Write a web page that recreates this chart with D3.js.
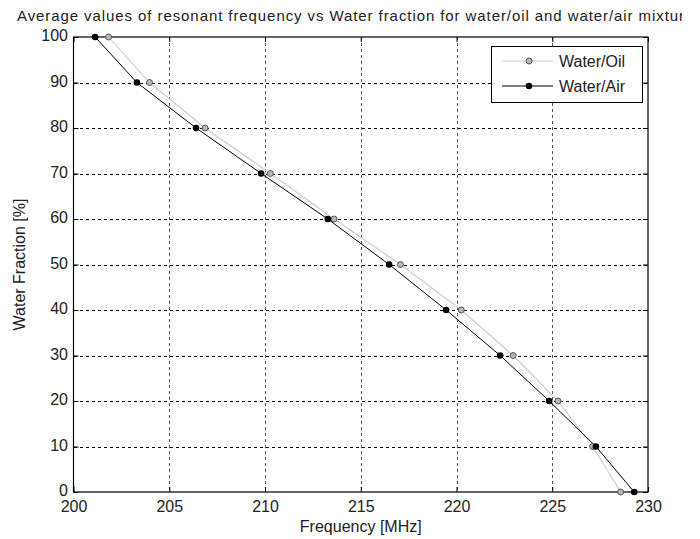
<!DOCTYPE html>
<html>
<head>
<meta charset="utf-8">
<script src="https://cdn.jsdelivr.net/npm/d3@7"></script>
<style>
  html, body { margin: 0; padding: 0; background: #fff; }
  svg { display: block; font-family: "Liberation Sans", Arial, sans-serif; }
</style>
</head>
<body>
<svg id="chart" width="700" height="539"></svg>
<script>
// ---- data ----
const waterFraction = [100, 90, 80, 70, 60, 50, 40, 30, 20, 10, 0];
const freqOil = [201.83, 203.97, 206.87, 210.28, 213.61, 217.07, 220.25, 222.96, 225.30, 227.11, 228.57];
const freqAir = [201.13, 203.31, 206.40, 209.80, 213.28, 216.48, 219.46, 222.28, 224.84, 227.28, 229.28];
const xTicks = [200, 205, 210, 215, 220, 225, 230];
const yTicks = [0, 10, 20, 30, 40, 50, 60, 70, 80, 90, 100];
const seriesNames = ["Water/Oil", "Water/Air"];
const titleText = "Average values of resonant frequency vs Water fraction for water/oil and water/air mixtures";
const xLabel = "Frequency [MHz]";
const yLabel = "Water Fraction [%]";

// ---- layout ----
const L = 73.5, R = 648, T = 37, B = 492;
const svg = d3.select("#chart");
const x = d3.scaleLinear().domain([200, 230]).range([L, R]);
const y = d3.scaleLinear().domain([0, 100]).range([B, T]);

// grid
const grid = svg.append("g").attr("stroke", "#000").attr("stroke-width", 1)
  .attr("stroke-dasharray", "3,3").attr("shape-rendering", "crispEdges");
grid.selectAll("line.v").data(xTicks.slice(1, -1)).join("line")
  .attr("x1", d => Math.round(x(d)) + 0.5).attr("x2", d => Math.round(x(d)) + 0.5)
  .attr("y1", T).attr("y2", B).attr("stroke", "#555");
grid.selectAll("line.h").data(yTicks.slice(1, -1)).join("line")
  .attr("y1", d => Math.round(y(d)) + 0.5).attr("y2", d => Math.round(y(d)) + 0.5)
  .attr("x1", L).attr("x2", R);

// axes
const fs = "16px";
const ax = svg.append("g").attr("transform", `translate(0,${B})`)
  .call(d3.axisBottom(x).tickValues(xTicks).tickSize(-5).tickPadding(8.5).tickSizeOuter(0));
const ay = svg.append("g").attr("transform", `translate(${L},0)`)
  .call(d3.axisLeft(y).tickValues(yTicks).tickSize(-5).tickPadding(5.5).tickSizeOuter(0));
const axT = svg.append("g").attr("transform", `translate(0,${T})`)
  .call(d3.axisTop(x).tickValues(xTicks).tickSize(-5).tickFormat("").tickSizeOuter(0));
const ayR = svg.append("g").attr("transform", `translate(${R},0)`)
  .call(d3.axisRight(y).tickValues(yTicks).tickSize(-5).tickFormat("").tickSizeOuter(0));
[ax, ay, axT, ayR].forEach(g => {
  g.selectAll("path").remove();
  g.selectAll("line").attr("stroke", "#000");
  g.selectAll("text").attr("font-size", fs).attr("fill", "#222")
    .attr("font-family", "'Liberation Sans', Arial, sans-serif");
});
ay.selectAll("text").attr("dy", "0.22em");
// box
svg.append("rect").attr("x", L).attr("y", T).attr("width", R - L).attr("height", B - T)
  .attr("fill", "none").attr("stroke", "#000").attr("stroke-width", 1.2);

// series
const oil = waterFraction.map((w, i) => ({ f: freqOil[i], w }));
const air = waterFraction.map((w, i) => ({ f: freqAir[i], w }));
const line = d3.line().x(d => x(d.f)).y(d => y(d.w));
svg.append("path").datum(oil).attr("d", line).attr("fill", "none").attr("stroke", "#cccccc").attr("stroke-width", 1.1);
svg.append("path").datum(air).attr("d", line).attr("fill", "none").attr("stroke", "#000").attr("stroke-width", 1);
svg.append("g").selectAll("circle").data(oil).join("circle")
  .attr("cx", d => x(d.f)).attr("cy", d => y(d.w)).attr("r", 3)
  .attr("fill", "#b8b8b8").attr("stroke", "#555").attr("stroke-width", 1);
svg.append("g").selectAll("circle").data(air).join("circle")
  .attr("cx", d => x(d.f)).attr("cy", d => y(d.w)).attr("r", 3.3)
  .attr("fill", "#000");

// legend
const lg = svg.append("g");
lg.append("rect").attr("x", 491.5).attr("y", 46.5).attr("width", 151).attr("height", 56)
  .attr("fill", "#fff").attr("stroke", "#000").attr("stroke-width", 1);
const legRows = [
  { name: seriesNames[0], y: 61, stroke: "#cccccc", fill: "#b8b8b8", mstroke: "#555", r: 3 },
  { name: seriesNames[1], y: 86, stroke: "#000", fill: "#000", mstroke: "none", r: 3.3 }
];
legRows.forEach(r => {
  lg.append("line").attr("x1", 502).attr("x2", 553).attr("y1", r.y).attr("y2", r.y)
    .attr("stroke", r.stroke).attr("stroke-width", 1.1);
  lg.append("circle").attr("cx", 529).attr("cy", r.y).attr("r", r.r)
    .attr("fill", r.fill).attr("stroke", r.mstroke);
  lg.append("text").attr("x", 559).attr("y", r.y + 6).attr("font-size", fs).attr("fill", "#222").text(r.name);
});

// axis titles
svg.append("text").attr("x", (L + R) / 2).attr("y", 532).attr("text-anchor", "middle")
  .attr("font-size", fs).attr("fill", "#222").text(xLabel);
svg.append("text").attr("transform", `translate(25,${(T + B) / 2}) rotate(-90)`).attr("text-anchor", "middle")
  .attr("font-size", fs).attr("fill", "#222").text(yLabel);

// title (clipped at the right like the reference)
svg.append("clipPath").attr("id", "tclip").append("rect").attr("x", 0).attr("y", 0).attr("width", 682).attr("height", 30);
const title = svg.append("text").attr("x", 17).attr("y", 20.5).attr("font-size", "15px").attr("fill", "#222")
  .attr("clip-path", "url(#tclip)");
const prefix = titleText.slice(0, titleText.indexOf("mixtu") + 5);
title.text(prefix);
const w0 = title.node().getComputedTextLength();
const ls = (679 - 17 - w0) / prefix.length;
title.attr("letter-spacing", ls).text(titleText);
</script>
</body>
</html>
